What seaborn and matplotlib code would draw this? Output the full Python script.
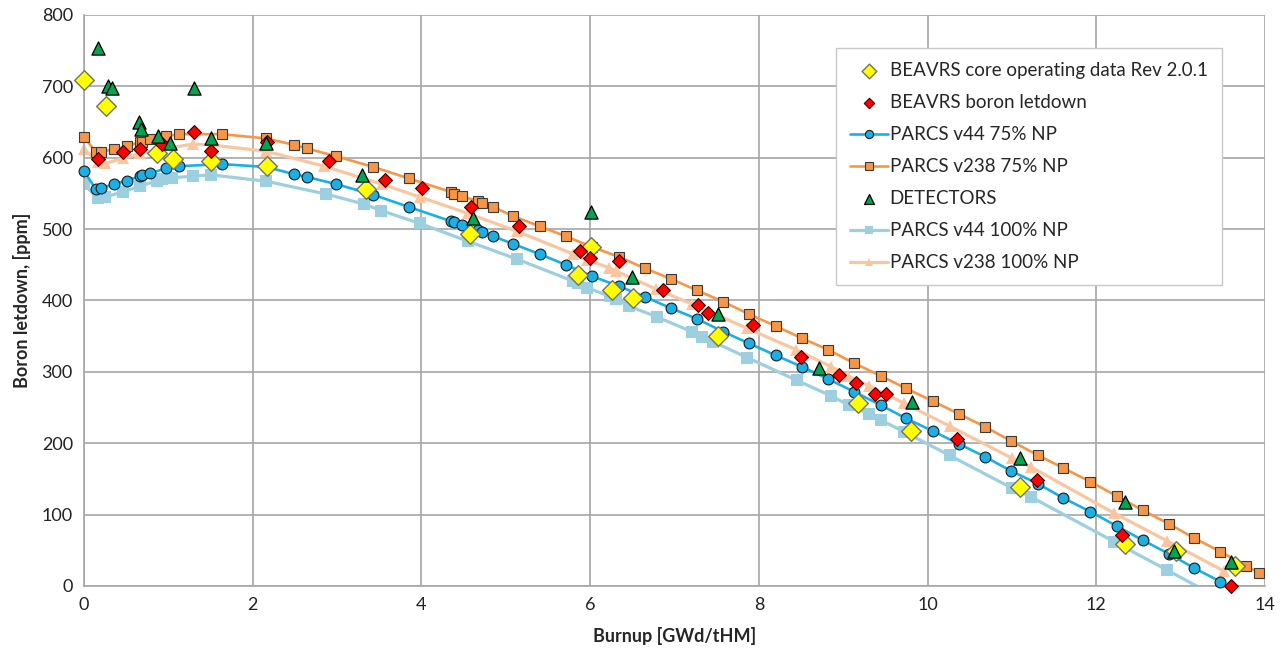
import matplotlib
matplotlib.use("Agg")
import matplotlib.pyplot as plt
import seaborn as sns
import numpy as np

# ---------------- data ----------------
core_x = [0.0, 0.26, 0.87, 1.05, 1.50, 2.17, 3.34, 4.58, 5.85, 6.01, 6.26, 6.51, 7.51,
          9.18, 9.80, 11.10, 12.34, 12.94, 13.64]
core_y = [709, 673, 607, 598, 595, 588, 556, 493, 436, 475, 415, 403, 350,
          256, 217, 139, 59, 49, 28]

letdown_x = [0.17, 0.46, 0.66, 0.92, 1.30, 1.50, 2.17, 2.90, 3.57, 4.01, 4.59, 5.16, 5.88,
             6.00, 6.34, 6.86, 7.28, 7.40, 7.93, 8.50, 8.95, 9.15, 9.38, 9.51, 10.35,
             11.30, 12.31, 13.60]
letdown_y = [598, 608, 612, 619, 636, 609, 622, 596, 569, 557, 531, 505, 469,
             460, 455, 415, 393, 383, 366, 321, 296, 285, 269, 269, 206,
             149, 71, 0]

det_x = [0.16, 0.28, 0.33, 0.65, 0.67, 0.88, 1.02, 1.30, 1.51, 2.16, 3.30, 4.61, 6.01,
         6.49, 7.51, 8.71, 9.81, 11.10, 12.34, 12.92, 13.60]
det_y = [754, 701, 697, 650, 640, 630, 620, 697, 628, 620, 576, 515, 524,
         433, 381, 305, 258, 179, 118, 49, 34]

v44_75_x = [0.0, 0.14, 0.20, 0.35, 0.51, 0.66, 0.69, 0.78, 0.97, 1.12, 1.63, 2.16, 2.49,
            2.64, 2.99, 3.43, 3.85, 4.35, 4.38, 4.48, 4.67, 4.72, 4.85, 5.09, 5.40, 5.71,
            6.02, 6.34, 6.65, 6.96, 7.27, 7.58, 7.88, 8.20, 8.51, 8.82, 9.13, 9.45, 9.74,
            10.06, 10.37, 10.68, 10.99, 11.31, 11.61, 11.93, 12.24, 12.55, 12.86, 13.16, 13.47]
v44_75_y = [581, 556, 557, 563, 568, 574, 576, 578, 585, 588, 591, 587, 577,
            573, 563, 548, 531, 511, 510, 506, 498, 496, 490, 479, 465, 450,
            434, 420, 405, 389, 374, 356, 340, 323, 307, 290, 272, 253, 235,
            217, 199, 181, 161, 143, 123, 104, 84, 64, 45, 25, 6]

v238_75_x = v44_75_x + [13.78, 13.93]
v238_75_y = [629, 608, 608, 612, 616, 622, 622, 626, 630, 633, 633, 627, 618,
             613, 602, 587, 571, 552, 549, 546, 539, 536, 531, 518, 504, 490,
             475, 461, 445, 430, 414, 398, 381, 364, 347, 331, 312, 294, 277,
             259, 241, 223, 203, 183, 165, 146, 126, 106, 87, 67, 48, 28, 18]

v44_100_x = [0.0, 0.16, 0.25, 0.46, 0.66, 0.87, 0.93, 1.04, 1.29, 1.50, 2.16, 2.87, 3.32,
             3.52, 3.98, 4.55, 5.13, 5.80, 5.85, 5.96, 6.23, 6.31, 6.46, 6.79, 7.21, 7.33,
             7.46, 7.86, 8.45, 8.86, 9.07, 9.31, 9.45, 9.72, 10.26, 11.00, 11.22, 12.21,
             12.84, 13.47]
v44_100_y = [563, 543, 545, 552, 560, 568, 570, 572, 574, 576, 567, 549, 535,
             526, 508, 483, 458, 427, 424, 418, 406, 402, 392, 377, 356, 349,
             342, 320, 288, 266, 253, 241, 232, 216, 183, 137, 125, 62,
             22, -18]

v238_100_x = [0.0, 0.17, 0.25, 0.46, 0.66, 0.87, 1.29, 1.50, 2.16, 2.85, 3.53, 3.98, 4.55,
              5.13, 5.80, 5.96, 6.22, 6.31, 6.78, 7.21, 7.86, 8.44, 8.86, 9.06, 9.31, 9.72,
              10.26, 11.00, 11.22, 12.21, 12.84, 13.51]
v238_100_y = [612, 594, 592, 599, 606, 611, 619, 618, 609, 588, 563, 545, 522,
              497, 465, 457, 446, 441, 416, 395, 361, 331, 307, 294, 280, 256,
              224, 179, 167, 102, 63, 21]

x_ticks = [0, 2, 4, 6, 8, 10, 12, 14]
y_ticks = [0, 100, 200, 300, 400, 500, 600, 700, 800]

# ---------------- style ----------------
sns.set_style("white")
plt.rcParams['font.family'] = ['Lato', 'DejaVu Sans']

fig = plt.figure(figsize=(12.83, 6.51), dpi=100)
ax = fig.add_axes([0.0655, 0.100, 0.9205, 0.877])

BLUE = '#1AAFE6'
ORANGE = '#F79646'
LBLUE = '#9CCFDF'
LORANGE = '#FAC6A0'

sns.lineplot(x=v44_100_x, y=v44_100_y, ax=ax, sort=False, color=LBLUE, lw=2.3,
             marker='s', markersize=8, markeredgewidth=0, markerfacecolor=LBLUE,
             zorder=2, label='PARCS v44 100% NP', legend=False)
n_clip = len(ax.lines)
sns.lineplot(x=v238_100_x, y=v238_100_y, ax=ax, sort=False, color=LORANGE, lw=2.3,
             marker='^', markersize=8, markeredgewidth=0, markerfacecolor=LORANGE,
             zorder=2, label='PARCS v238 100% NP', legend=False)
sns.lineplot(x=v44_75_x, y=v44_75_y, ax=ax, sort=False, color=BLUE, lw=1.9,
             marker='o', markersize=7.8, markeredgecolor='#1a1a1a', markeredgewidth=0.8,
             markerfacecolor=BLUE, zorder=3, label='PARCS v44 75% NP', legend=False)
sns.lineplot(x=v238_75_x, y=v238_75_y, ax=ax, sort=False, color=ORANGE, lw=1.9,
             marker='s', markersize=7.8, markeredgecolor='#3a3a3a', markeredgewidth=0.8,
             markerfacecolor=ORANGE, zorder=3, label='PARCS v238 75% NP', legend=False)
sns.scatterplot(x=core_x, y=core_y, ax=ax, marker='D', s=100, color='#FFFF00',
                edgecolor='#707070', linewidth=1.0, zorder=4,
                label='BEAVRS core operating data Rev 2.0.1', legend=False)
sns.scatterplot(x=letdown_x, y=letdown_y, ax=ax, marker='D', s=50, color='#FF0000',
                edgecolor='#3a0000', linewidth=0.8, zorder=5,
                label='BEAVRS boron letdown', legend=False)
sns.scatterplot(x=det_x, y=det_y, ax=ax, marker='^', s=90, color='#00A550',
                edgecolor='#000000', linewidth=0.9, zorder=6,
                label='DETECTORS', legend=False)

# markers at the edges are drawn in full (except the light-blue line that runs below 0)
for i, ln in enumerate(ax.lines):
    if i >= n_clip:
        ln.set_clip_on(False)
for c in ax.collections:
    c.set_clip_on(False)

ax.set_xlim(0, 14)
ax.set_ylim(0, 800)
ax.set_xticks(x_ticks)
ax.set_yticks(y_ticks)
ax.set_xticklabels([str(t) for t in x_ticks], fontsize=13, color='#222222')
ax.set_yticklabels([str(t) for t in y_ticks], fontsize=13, color='#222222')
ax.tick_params(axis='both', length=0, pad=8)
ax.grid(True, color='#a6a6a6', lw=1.2)
ax.set_axisbelow(True)
for s in ['top', 'right']:
    ax.spines[s].set_visible(False)
for s in ['left', 'bottom']:
    ax.spines[s].set_color('#a6a6a6')
    ax.spines[s].set_linewidth(1.2)

ax.set_xlabel('Burnup [GWd/tHM]', fontsize=13, fontweight='bold', labelpad=10)
ax.set_ylabel('Boron letdown, [ppm]', fontsize=13, fontweight='bold', labelpad=8)

h, l = ax.get_legend_handles_labels()
order = ['BEAVRS core operating data Rev 2.0.1', 'BEAVRS boron letdown',
         'PARCS v44 75% NP', 'PARCS v238 75% NP', 'DETECTORS',
         'PARCS v44 100% NP', 'PARCS v238 100% NP']
hd = dict(zip(l, h))
leg = ax.legend([hd[k] for k in order], order, loc='upper left',
                bbox_to_anchor=(0.629, 0.958), fontsize=13.5, frameon=True,
                fancybox=False, edgecolor='#c8c8c8', framealpha=1,
                labelspacing=0.8, handlelength=2.0, handletextpad=0.1,
                borderpad=0.75, markerscale=0.75)
leg.get_frame().set_linewidth(1.0)

fig.savefig('out.png', dpi=100)
